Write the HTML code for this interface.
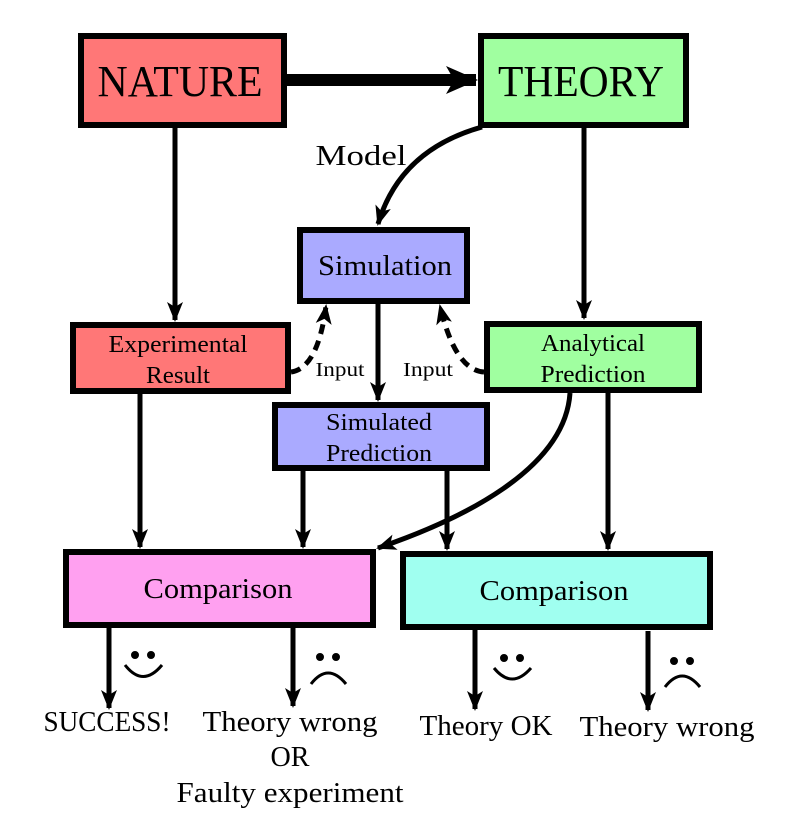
<!DOCTYPE html>
<html><head><meta charset="utf-8"><style>
html,body{margin:0;padding:0;background:#fff}
svg{display:block}
text{font-family:"Liberation Serif","DejaVu Serif",serif;fill:#000;text-anchor:middle}
</style></head><body>
<svg width="795" height="832" viewBox="0 0 795 832">
<defs>
<marker id="ah" markerUnits="userSpaceOnUse" markerWidth="20" markerHeight="26" refX="18" refY="10" orient="auto" viewBox="0 0 20 20">
<path d="M0,2 L20,10 L0,18 L5,10 Z" fill="#000"/>
</marker>
<marker id="ahb" markerUnits="userSpaceOnUse" markerWidth="32" markerHeight="32" refX="30" refY="14" orient="auto" viewBox="0 0 32 28">
<path d="M0,0 L32,14 L0,28 L8,14 Z" fill="#000"/>
</marker>
</defs>
<g stroke="#000" stroke-width="5" fill="none">
<line x1="287" y1="80" x2="476" y2="80" stroke-width="12" marker-end="url(#ahb)"/>
<line x1="175" y1="128" x2="175" y2="320" marker-end="url(#ah)"/>
<line x1="584" y1="128" x2="584" y2="318" marker-end="url(#ah)"/>
<path d="M482,127 Q400,150 378,224" marker-end="url(#ah)"/>
<line x1="378" y1="304" x2="378" y2="400" marker-end="url(#ah)"/>
<path d="M291,372 Q318,368 326,306" stroke-dasharray="10,7" marker-end="url(#ah)"/>
<path d="M484,372 Q455,370 440,306" stroke-dasharray="10,7" marker-end="url(#ah)"/>
<line x1="140" y1="394" x2="140" y2="547" marker-end="url(#ah)"/>
<line x1="303" y1="471" x2="303" y2="547" marker-end="url(#ah)"/>
<line x1="447" y1="471" x2="447" y2="549" marker-end="url(#ah)"/>
<path d="M570,393 C565,470 460,520 378,548" marker-end="url(#ah)"/>
<line x1="608" y1="393" x2="608" y2="549" marker-end="url(#ah)"/>
<line x1="109" y1="628" x2="109" y2="708" marker-end="url(#ah)"/>
<line x1="293" y1="628" x2="293" y2="706" marker-end="url(#ah)"/>
<line x1="475" y1="630" x2="475" y2="709" marker-end="url(#ah)"/>
<line x1="648" y1="631" x2="648" y2="710" marker-end="url(#ah)"/>
</g>
<g stroke="#000" stroke-width="6">
<rect x="81" y="36" width="203" height="89" fill="#ff7777"/>
<rect x="481" y="36" width="205" height="89" fill="#a0ffa0"/>
<rect x="300" y="230" width="167" height="71" fill="#aaaaff"/>
<rect x="73" y="325" width="215" height="66" fill="#ff7777"/>
<rect x="487" y="324" width="212" height="66" fill="#a0ffa0"/>
<rect x="275" y="405" width="212" height="63" fill="#aaaaff"/>
<rect x="66" y="552" width="307" height="73" fill="#ffa0f0"/>
<rect x="403" y="554" width="307" height="73" fill="#a0fff0"/>
</g>
<text x="180" y="96" font-size="44" textLength="165" lengthAdjust="spacingAndGlyphs">NATURE</text>
<text x="581" y="96" font-size="44" textLength="166" lengthAdjust="spacingAndGlyphs">THEORY</text>
<text x="361" y="165" font-size="29" textLength="91" lengthAdjust="spacingAndGlyphs">Model</text>
<text x="385" y="275" font-size="28" textLength="134" lengthAdjust="spacingAndGlyphs">Simulation</text>
<text x="178" y="352" font-size="24" textLength="139" lengthAdjust="spacingAndGlyphs">Experimental</text>
<text x="178" y="383" font-size="24" textLength="64" lengthAdjust="spacingAndGlyphs">Result</text>
<text x="593" y="351" font-size="24" textLength="104" lengthAdjust="spacingAndGlyphs">Analytical</text>
<text x="593" y="382" font-size="24" textLength="105" lengthAdjust="spacingAndGlyphs">Prediction</text>
<text x="379" y="430" font-size="24" textLength="106" lengthAdjust="spacingAndGlyphs">Simulated</text>
<text x="379" y="461" font-size="24" textLength="106" lengthAdjust="spacingAndGlyphs">Prediction</text>
<text x="340" y="376" font-size="20" textLength="49" lengthAdjust="spacingAndGlyphs">Input</text>
<text x="428" y="376" font-size="20" textLength="50" lengthAdjust="spacingAndGlyphs">Input</text>
<text x="218" y="598" font-size="28" textLength="149" lengthAdjust="spacingAndGlyphs">Comparison</text>
<text x="554" y="600" font-size="28" textLength="149" lengthAdjust="spacingAndGlyphs">Comparison</text>
<g stroke="#000" stroke-width="3" fill="none">
<circle cx="135" cy="655" r="2.5" fill="#000"/><circle cx="151" cy="655" r="2.5" fill="#000"/><path d="M125,665 Q143,688 162,665"/>
<circle cx="320" cy="657" r="2.5" fill="#000"/><circle cx="336" cy="657" r="2.5" fill="#000"/><path d="M311,684 Q328,662 346,684"/>
<circle cx="504" cy="658" r="2.5" fill="#000"/><circle cx="520" cy="658" r="2.5" fill="#000"/><path d="M494,668 Q512,690 531,668"/>
<circle cx="674" cy="661" r="2.5" fill="#000"/><circle cx="690" cy="661" r="2.5" fill="#000"/><path d="M665,687 Q682,665 700,687"/>
</g>
<text x="107" y="731" font-size="28" textLength="127" lengthAdjust="spacingAndGlyphs">SUCCESS!</text>
<text x="290" y="731" font-size="28" textLength="175" lengthAdjust="spacingAndGlyphs">Theory wrong</text>
<text x="290" y="766" font-size="28" textLength="39" lengthAdjust="spacingAndGlyphs">OR</text>
<text x="290" y="802" font-size="28" textLength="227" lengthAdjust="spacingAndGlyphs">Faulty experiment</text>
<text x="486" y="735" font-size="28" textLength="133" lengthAdjust="spacingAndGlyphs">Theory OK</text>
<text x="667" y="736" font-size="28" textLength="175" lengthAdjust="spacingAndGlyphs">Theory wrong</text>
</svg>
</body></html>
